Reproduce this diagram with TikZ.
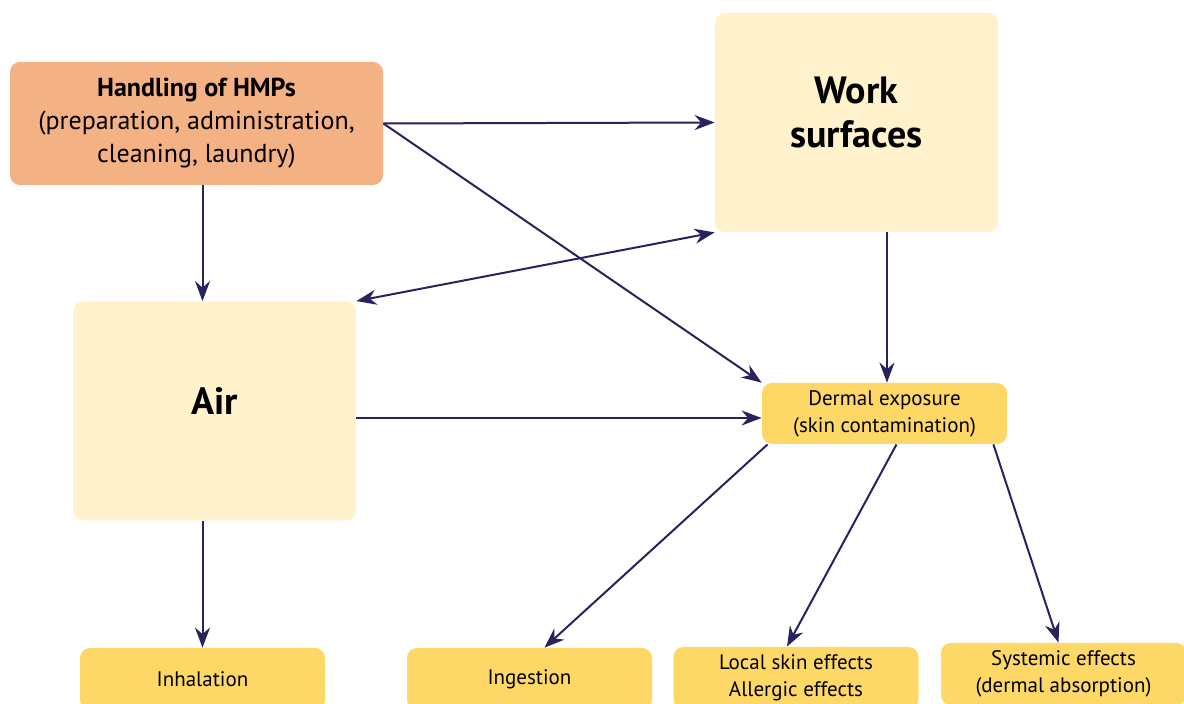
\documentclass[tikz,border=0pt]{standalone}
\usepackage{fontspec}
\setmainfont{PT Sans}
\usetikzlibrary{arrows.meta,calc}
\definecolor{hmporange}{HTML}{F4B183}
\definecolor{pool}{HTML}{FFF2CC}
\definecolor{expo}{HTML}{FDD867}
\definecolor{navy}{HTML}{26235F}

\begin{document}
\begin{tikzpicture}[x=0.5pt, y=-0.5pt,
    >={Stealth[length=10pt, width=7.5pt]},
    box/.style={rectangle, rounded corners=5pt, inner sep=2pt, align=center, text=black},
    srcbox/.style={box, fill=hmporange, minimum width=186.5pt, minimum height=61.5pt, font=\fontsize{13}{16.5}\selectfont},
    poolbox/.style={box, fill=pool, minimum width=141.5pt, minimum height=109.5pt, text depth=10pt, font=\fontsize{19}{22}\selectfont\bfseries},
    expobox/.style={box, fill=expo, minimum width=122.5pt, minimum height=30.5pt, font=\fontsize{10.5}{13.5}\selectfont},
    effbox/.style={box, fill=expo, minimum width=122.5pt, minimum height=31pt, font=\fontsize{10.5}{13.5}\selectfont},
    arr/.style={draw=navy, line width=1pt, ->}
]
    % Frame
    \useasboundingbox (0,0) rectangle (1184,704);
    \clip (0,0) rectangle (1184,704);

    % Source
    \node[srcbox] (hmp) at (196.5,123.5) {\textbf{Handling of HMPs}\\(preparation, administration,\\cleaning, laundry)};

    % Contaminated media
    \node[poolbox] (work) at (856.5,122.5) {Work\\surfaces};
    \node[poolbox] (air) at (214.5,411) {Air};

    % Exposure
    \node[expobox] (dermal) at (884.5,413.5) {Dermal exposure\\(skin contamination)};

    % Effects
    \node[effbox] (inhal) at (202.5,679) {Inhalation};
    \node[effbox] (ingest) at (529.5,679) {Ingestion};
    \node[effbox] (local) at (796,678) {Local skin effects\\Allergic effects};
    \node[effbox] (system) at (1063.5,674) {Systemic effects\\(dermal absorption)};

    % Connections
    \draw[arr] (hmp.east) -- (work.west);
    \draw[arr] (hmp.east) -- (dermal.north west);
    \draw[arr] (hmp.south -| inhal) -- (air.north -| inhal);
    \draw[arr, <->] (work.south west) -- (air.north east);
    \draw[arr] (work.south -| dermal.north) ++(2.5,0) coordinate (w) -- (dermal.north -| w);
    \draw[arr] (air.east |- dermal.west) ++(0,4.5) coordinate (a) -- (dermal.west |- a);
    \draw[arr] (air.south -| inhal) -- (inhal.north);
    \draw[arr] ($(dermal.south west)+(6,0)$) -- ($(ingest.north)+(15,0)$);
    \draw[arr] ($(dermal.south)+(12,0)$) -- ($(local.north)+(-9,0)$);
    \draw[arr] ($(dermal.south east)+(-14,0)$) -- ($(system.north)+(-5,0)$);
\end{tikzpicture}
\end{document}
